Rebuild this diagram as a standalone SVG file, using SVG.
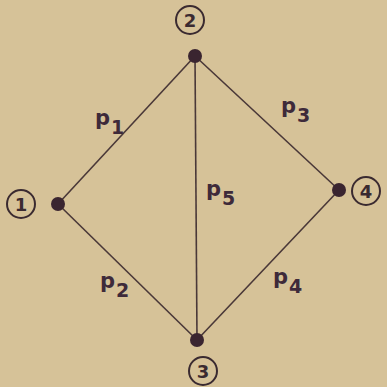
<svg xmlns="http://www.w3.org/2000/svg" width="387" height="387" viewBox="0 0 387 387">
<style>
.edge{stroke:#4a3838;stroke-width:1.6;fill:none}
.dot{fill:#3a2530}
.ring{fill:none;stroke:#3a2a30;stroke-width:2}
.num{font-family:"DejaVu Sans",sans-serif;font-weight:bold;font-size:18px;fill:#3a2a30;text-anchor:middle}
.lab{font-family:"DejaVu Sans",sans-serif;font-weight:bold;font-size:21px;fill:#3e2a3a}
</style>
<rect width="387" height="387" fill="#d6c298"/>
<g id="connectors">
<line class="edge" x1="58" y1="204" x2="195" y2="56"/>
<line class="edge" x1="58" y1="204" x2="197" y2="340"/>
<line class="edge" x1="195" y1="56" x2="197" y2="340"/>
<line class="edge" x1="195" y1="56" x2="339" y2="190"/>
<line class="edge" x1="197" y1="340" x2="339" y2="190"/>
</g>
<g id="node1"><circle class="dot" cx="58" cy="204" r="7"/><circle class="ring" cx="21" cy="204" r="14"/><text class="num" x="21" y="210.5">1</text></g>
<g id="node2"><circle class="dot" cx="195" cy="56" r="7"/><circle class="ring" cx="190" cy="20" r="14"/><text class="num" x="190" y="26.5">2</text></g>
<g id="node3"><circle class="dot" cx="197" cy="340" r="7"/><circle class="ring" cx="203" cy="371" r="14"/><text class="num" x="203" y="377.5">3</text></g>
<g id="node4"><circle class="dot" cx="339" cy="190" r="7"/><circle class="ring" cx="366" cy="191" r="14"/><text class="num" x="366" y="197.5">4</text></g>
<g id="labels">
<text class="lab" x="95" y="125">p<tspan font-size="19" dx="1" dy="9">1</tspan></text>
<text class="lab" x="206" y="196">p<tspan font-size="19" dx="1" dy="9">5</tspan></text>
<text class="lab" x="281" y="113">p<tspan font-size="19" dx="1" dy="9">3</tspan></text>
<text class="lab" x="100" y="288">p<tspan font-size="19" dx="1" dy="9">2</tspan></text>
<text class="lab" x="273" y="284">p<tspan font-size="19" dx="1" dy="9">4</tspan></text>
</g>
</svg>
